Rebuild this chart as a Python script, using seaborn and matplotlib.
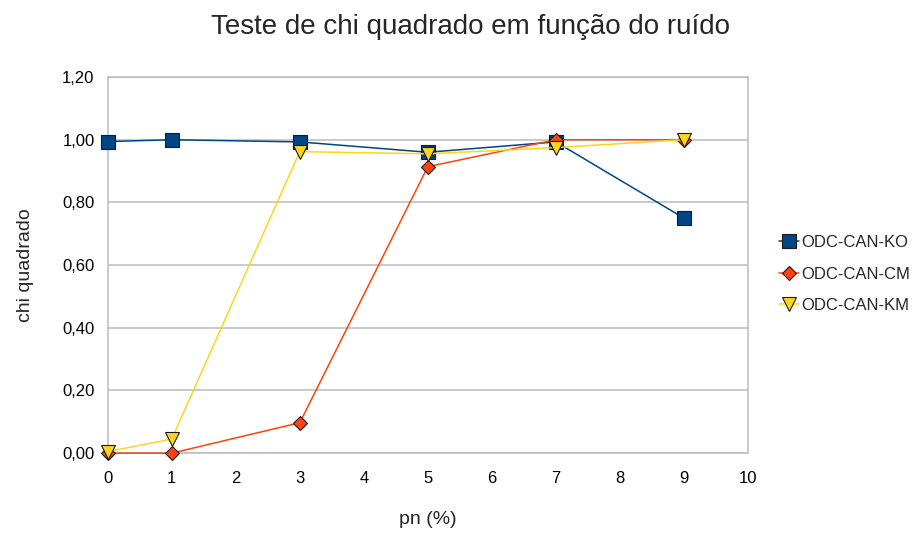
import pandas as pd
import seaborn as sns
import matplotlib.pyplot as plt

# data
pn = [0, 1, 3, 5, 7, 9]
ko = [0.994, 1.0, 0.993, 0.960, 0.993, 0.75]
cm = [0.0, 0.0, 0.097, 0.914, 1.0, 1.0]
km = [0.005, 0.045, 0.962, 0.955, 0.975, 1.0]
series_names = ['ODC-CAN-KO', 'ODC-CAN-CM', 'ODC-CAN-KM']
y_ticks = [0.0, 0.2, 0.4, 0.6, 0.8, 1.0, 1.2]

colors = {'ODC-CAN-KO': '#004586', 'ODC-CAN-CM': '#ff420e', 'ODC-CAN-KM': '#ffd320'}
markers = {'ODC-CAN-KO': 's', 'ODC-CAN-CM': 'D', 'ODC-CAN-KM': 'v'}
msize = {'ODC-CAN-KO': 9.5, 'ODC-CAN-CM': 7.5, 'ODC-CAN-KM': 9.5}

df = pd.DataFrame({
    'pn': pn * 3,
    'chi': ko + cm + km,
    'serie': [s for s in series_names for _ in pn],
})

sns.set_style('white')
plt.rcParams['font.family'] = ['Liberation Sans', 'DejaVu Sans']

fig = plt.figure(figsize=(9.21, 5.35), dpi=100)
ax = fig.add_axes([0.117, 0.153, 0.695, 0.703])

for s in series_names:
    sns.lineplot(data=df[df.serie == s], x='pn', y='chi', ax=ax,
                 color=colors[s], marker=markers[s], markersize=msize[s],
                 markeredgecolor='#1a1a1a', markeredgewidth=0.8,
                 linewidth=1.1, label=s, clip_on=False, zorder=3)

ax.set_xlim(0, 10)
ax.set_ylim(0, 1.2)
ax.set_xticks(range(0, 11))
ax.set_yticks(y_ticks)
ax.set_yticklabels([f'{v:.2f}'.replace('.', ',') for v in y_ticks])
ax.grid(axis='y', color='#c0c0c0', linewidth=1.2)
ax.set_axisbelow(True)
for sp in ax.spines.values():
    sp.set_color('#c0c0c0')
    sp.set_linewidth(1.2)
ax.tick_params(axis='both', colors='#c0c0c0', labelcolor='black',
               length=6, width=1, direction='out', labelsize=12)
ax.tick_params(axis='x', pad=7)
ax.set_xlabel('pn (%)', fontsize=14, labelpad=18)
ax.set_ylabel('chi quadrado', fontsize=14, labelpad=20)
fig.text(470 / 921, 1 - 27 / 535, 'Teste de chi quadrado em função do ruído',
         fontsize=20, ha='center', va='center')

ax.legend(loc='center left', bbox_to_anchor=(1.03, 0.476), frameon=False,
          fontsize=12, handlelength=1.2, handletextpad=0.15, labelspacing=1.0,
          borderpad=0.2)

fig.savefig('out.png', dpi=100)
